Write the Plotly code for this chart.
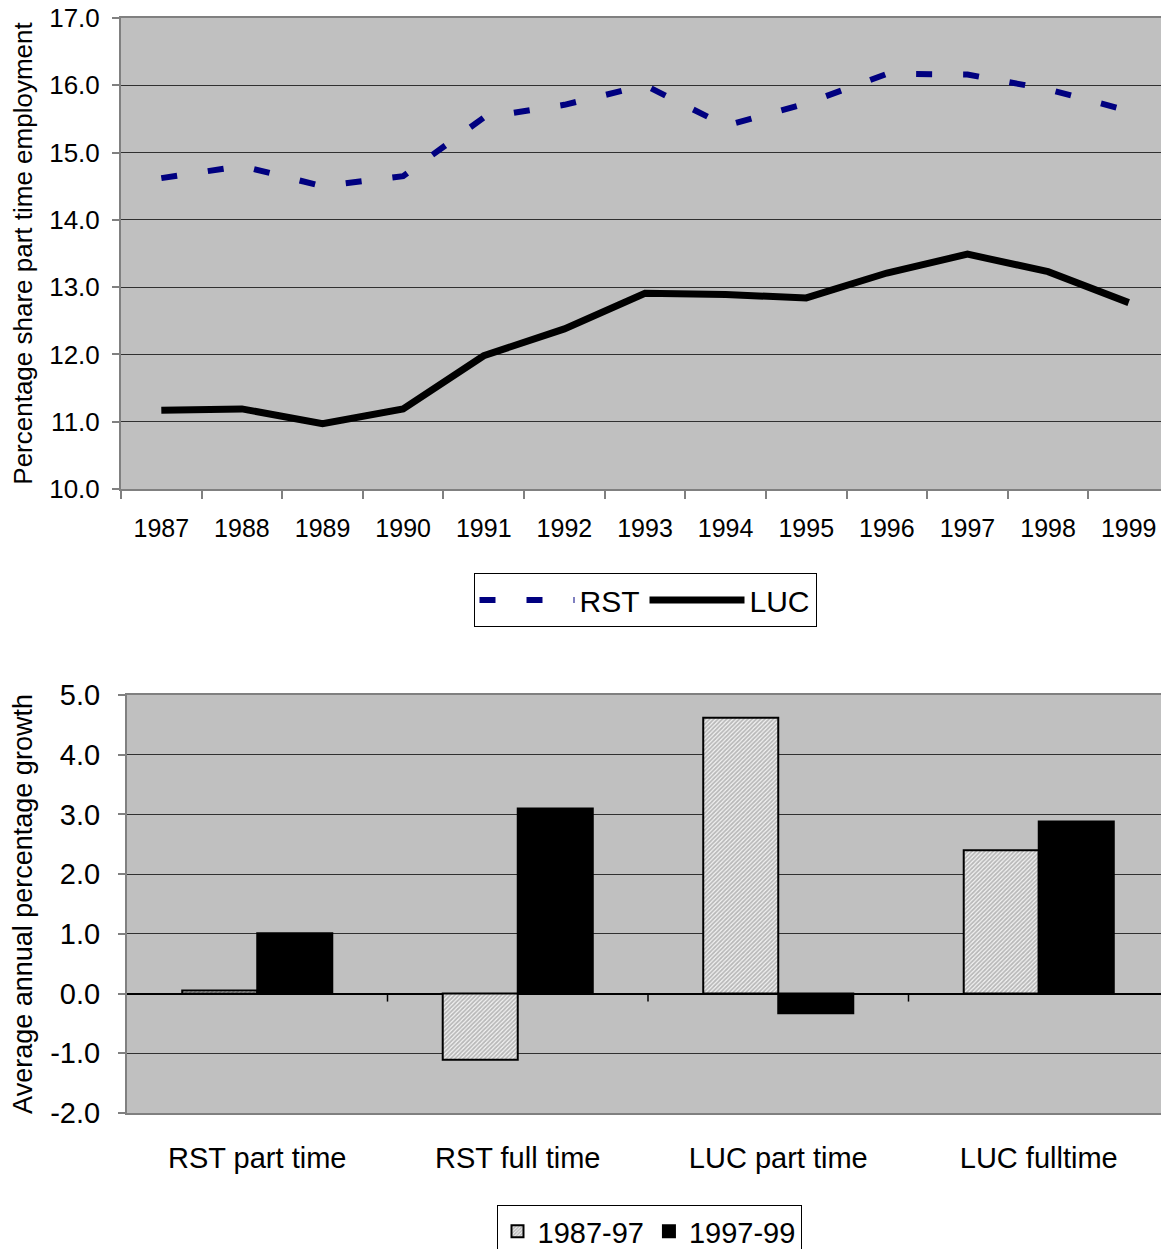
import plotly.graph_objects as go

# ---- data ----
years = ["1987", "1988", "1989", "1990", "1991", "1992", "1993",
         "1994", "1995", "1996", "1997", "1998", "1999"]
rst_share = [14.62, 14.80, 14.50, 14.65, 15.52, 15.71, 16.00,
             15.40, 15.73, 16.17, 16.16, 15.94, 15.62]
luc_share = [11.17, 11.19, 10.97, 11.19, 11.98, 12.38, 12.91,
             12.89, 12.84, 13.21, 13.49, 13.23, 12.77]
top_yticks = [10, 11, 12, 13, 14, 15, 16, 17]
top_yticktext = ["10.0", "11.0", "12.0", "13.0", "14.0", "15.0", "16.0", "17.0"]

groups = ["RST part time", "RST full time", "LUC part time", "LUC fulltime"]
growth_8797 = [0.05, -1.11, 4.62, 2.40]
growth_9799 = [1.01, 3.10, -0.33, 2.88]
bot_yticks = [-2, -1, 0, 1, 2, 3, 4, 5]
bot_yticktext = ["-2.0", "-1.0", "0.0", "1.0", "2.0", "3.0", "4.0", "5.0"]

FONT = "Liberation Sans, Arial, sans-serif"
OFF = 8                      # page body margin in the browser
W, H = 1169 - OFF, 1249 - OFF

fig = go.Figure()

fig.add_trace(go.Scatter(
    x=years, y=rst_share, name="RST", mode="lines",
    line=dict(color="#000080", width=6, dash="16px,31px"),
    xaxis="x", yaxis="y", legend="legend"))
fig.add_trace(go.Scatter(
    x=years, y=luc_share, name="LUC", mode="lines",
    line=dict(color="#000000", width=7),
    xaxis="x", yaxis="y", legend="legend"))

fig.add_trace(go.Bar(
    x=groups, y=growth_8797, name="1987-97",
    marker=dict(color="#C0C0C0", line=dict(color="#000000", width=2),
                pattern=dict(shape="/", fgcolor="#7C7C7C", bgcolor="#F4F4F4",
                             size=3, solidity=0.6)),
    xaxis="x2", yaxis="y2", legend="legend2"))
fig.add_trace(go.Bar(
    x=groups, y=growth_9799, name="1997-99",
    marker=dict(color="#000000", line=dict(color="#000000", width=2)),
    xaxis="x2", yaxis="y2", legend="legend2"))

def px_x(x):
    return (x - OFF) / W

def px_y(y):
    return 1 - (y - OFF) / H

grid = "#303030"
axline = "#808080"

fig.update_layout(
    width=W, height=H,
    margin=dict(l=0, r=0, t=0, b=0, autoexpand=False),
    paper_bgcolor="white",
    plot_bgcolor="#C0C0C0",
    font=dict(family=FONT, color="black", size=25),
    barmode="group", bargap=0.424, bargroupgap=0,
    xaxis=dict(domain=[px_x(121), 1], anchor="y", type="category",
               range=[-0.5, 12.5], tickson="boundaries", ticks="outside",
               ticklen=8, tickcolor=axline, tickwidth=1.5,
               showline=True, linecolor=axline, linewidth=2, mirror=True,
               showgrid=False, tickfont=dict(size=25), automargin=False,
               ticklabelstandoff=16, ticklabeloverflow="allow"),
    yaxis=dict(domain=[px_y(489), px_y(18)], anchor="x",
               range=[10, 17], tickvals=top_yticks, ticktext=top_yticktext,
               ticks="outside", ticklen=7, tickcolor=axline, tickwidth=1.5,
               showline=True, linecolor=axline, linewidth=2, mirror=True,
               showgrid=True, gridcolor=grid, gridwidth=1, zeroline=False,
               tickfont=dict(size=26), automargin=False, ticklabelstandoff=7,
               ticklabeloverflow="allow",
               title=dict(text="Percentage share part time employment",
                          font=dict(size=26), standoff=10)),
    xaxis2=dict(domain=[px_x(127), 1], anchor="y2", type="category",
                range=[-0.5, 3.5], ticks="",
                showline=True, linecolor=axline, linewidth=2, mirror=True,
                showgrid=False, tickfont=dict(size=29), automargin=False,
                ticklabelstandoff=18, ticklabeloverflow="allow"),
    yaxis2=dict(domain=[px_y(1113), px_y(695)], anchor="x2",
                range=[-2, 5], tickvals=bot_yticks, ticktext=bot_yticktext,
                ticks="outside", ticklen=7, tickcolor=axline, tickwidth=1.5,
                showline=True, linecolor=axline, linewidth=2, mirror=True,
                showgrid=True, gridcolor=grid, gridwidth=1,
                zeroline=True, zerolinecolor="#000000", zerolinewidth=1.5,
                tickfont=dict(size=29), automargin=False, ticklabelstandoff=12,
                ticklabeloverflow="allow",
                title=dict(text="Average annual percentage growth",
                           font=dict(size=27), standoff=12)),
    legend=dict(orientation="h", x=px_x(645), xanchor="center",
                y=px_y(573), yanchor="top",
                bgcolor="white", bordercolor="black", borderwidth=1,
                font=dict(size=30), itemwidth=95, tracegroupgap=0),
    legend2=dict(orientation="h", x=px_x(649), xanchor="center",
                 y=px_y(1205), yanchor="top",
                 bgcolor="white", bordercolor="black", borderwidth=1,
                 font=dict(size=29), tracegroupgap=0),
)

shapes = []
for i in range(1, len(groups)):
    shapes.append(dict(type="line", xref="x2", yref="y2",
                       x0=i - 0.5, x1=i - 0.5, ysizemode="pixel",
                       yanchor=0, y0=0, y1=-8,
                       line=dict(color="#000000", width=1.5)))
fig.update_layout(shapes=shapes)

fig.write_html("out.html")
